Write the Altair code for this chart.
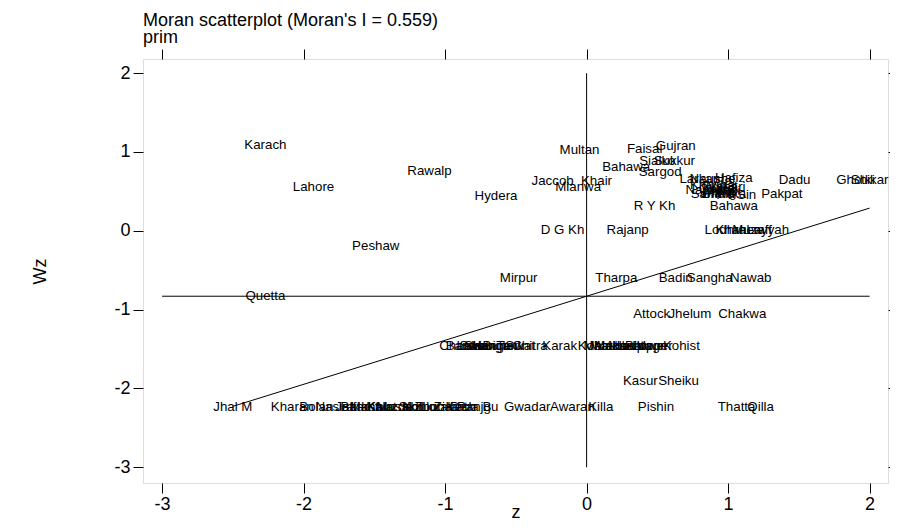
import altair as alt
import pandas as pd

# ---------------- data ----------------
names = [
    # upper-left quadrant
    "Karach", "Lahore", "Rawalp", "Hydera", "Peshaw", "Quetta", "Multan",
    "Jaccob", "Mianwa", "D G Kh", "Mirpur",
    # upper-right quadrant
    "Faisal", "Gujran", "Sialko", "Sukkur", "Bahawa", "Sargod", "Khair",
    "Larkan", "Naushe", "Hafiza", "Dadu", "Ghotki", "Shikar",
    "Khusha", "Gujrat", "Okara", "Vehari", "Narowa", "Mandi", "Sahiwa",
    "Jhang", "Bhakka", "T T Sin", "Pakpat", "Bahawa", "R Y Kh", "Rajanp",
    "Lodhra", "Khanew", "Muzaff", "Layyah",
    # lower-right quadrant
    "Tharpa", "Badin", "Sangha", "Nawab", "Attock", "Jhelum", "Chakwa",
    "Kasur", "Sheiku", "Killa", "Pishin", "Thatta", "Qilla",
    # lower-left band (Wz ~ -1.46)
    "Charsa", "Bannu", "Lakki", "Swabi", "Shangl", "Hangu", "Buner", "Tank",
    "Swat", "Chitra", "Karak", "Kohat", "Malaka", "Mardan", "Manseh",
    "Abbott", "Haripu", "Batagr", "Lower", "Upper", "Kohist",
    # bottom band (Wz ~ -2.23)
    "Jhal M", "Kharan", "Bolan", "Nasira", "Jaffar", "Barkha", "Mastun",
    "Kalat", "Khuzda", "Musakh", "Sibi", "Kohlu", "Zhob", "Lorala", "Ziarat",
    "Kech", "Dera B", "Panjgu", "Gwadar", "Awaran",
]

z_vals = [
    -2.27, -1.93, -1.11, -0.64, -1.49, -2.27, -0.05,
    -0.24, -0.06, -0.17, -0.48,
    0.41, 0.63, 0.50, 0.62, 0.28, 0.52, 0.07,
    0.80, 0.89, 1.04, 1.47, 1.90, 2.00,
    0.89, 0.94, 0.92, 0.99, 0.86, 0.96, 0.89,
    0.93, 0.97, 1.05, 1.38, 1.04, 0.48, 0.29,
    0.98, 1.08, 1.17, 1.28,
    0.21, 0.63, 0.87, 1.16, 0.46, 0.73, 1.10,
    0.38, 0.65, 0.10, 0.49, 1.06, 1.23,
    -0.89, -0.86, -0.81, -0.77, -0.72, -0.67, -0.61, -0.54,
    -0.47, -0.40, -0.19, 0.06, 0.13, 0.18, 0.22,
    0.27, 0.32, 0.41, 0.45, 0.48, 0.67,
    -2.50, -2.08, -1.91, -1.78, -1.66, -1.59, -1.52,
    -1.45, -1.39, -1.32, -1.25, -1.18, -1.11, -1.04, -0.96,
    -0.89, -0.82, -0.77, -0.42, -0.10,
]

wz_vals = [
    1.09, 0.56, 0.76, 0.44, -0.19, -0.83, 1.02,
    0.63, 0.55, 0.01, -0.60,
    1.04, 1.08, 0.88, 0.88, 0.81, 0.74, 0.63,
    0.66, 0.66, 0.67, 0.65, 0.65, 0.65,
    0.58, 0.57, 0.53, 0.55, 0.52, 0.51, 0.47,
    0.48, 0.47, 0.46, 0.47, 0.32, 0.32, 0.01,
    0.01, 0.01, 0.01, 0.01,
    -0.60, -0.60, -0.60, -0.60, -1.05, -1.05, -1.05,
    -1.90, -1.90, -2.23, -2.23, -2.23, -2.23,
    -1.46, -1.46, -1.46, -1.46, -1.46, -1.46, -1.46, -1.46,
    -1.46, -1.46, -1.46, -1.46, -1.46, -1.46, -1.46,
    -1.46, -1.46, -1.46, -1.46, -1.46, -1.46,
    -2.23, -2.23, -2.23, -2.23, -2.23, -2.23, -2.23,
    -2.23, -2.23, -2.23, -2.23, -2.23, -2.23, -2.23, -2.23,
    -2.23, -2.23, -2.23, -2.23, -2.23,
]

MORAN_I = 0.559
MEAN_WZ = -0.83
TITLE_LINES = ["Moran scatterplot (Moran's I = 0.559)", "prim"]
X_TICKS = [-3, -2, -1, 0, 1, 2]
Y_TICKS = [-3, -2, -1, 0, 1, 2]
X_DOMAIN = [-3.135, 2.13]
Y_DOMAIN = [-3.2, 2.18]

# ---------------- tables ----------------
df = pd.DataFrame({"name": names, "z": z_vals, "wz": wz_vals})
zmin, zmax = min(z_vals), max(z_vals)
reg = pd.DataFrame({"z": [zmin, zmax],
                    "wz": [MEAN_WZ + MORAN_I * zmin, MEAN_WZ + MORAN_I * zmax]})
hline = pd.DataFrame({"z": [X_TICKS[0]], "z2": [X_TICKS[-1]], "wz": [MEAN_WZ]})
vline = pd.DataFrame({"z": [0], "wz": [Y_TICKS[0]], "wz2": [Y_TICKS[-1]]})

FONT = "Liberation Sans"
xs = alt.Scale(domain=X_DOMAIN, nice=False, zero=False)
ys = alt.Scale(domain=Y_DOMAIN, nice=False, zero=False)

common_axis = dict(grid=False, domain=False, tickSize=10, tickColor="black",
                   tickWidth=1, labelFont=FONT, labelFontSize=18,
                   labelColor="black", titleFont=FONT, titleFontSize=18,
                   titleFontWeight="normal", titleColor="black",
                   labelExpr="'' + datum.value")

x_bottom = alt.Axis(orient="bottom", values=X_TICKS, labelPadding=2,
                    title="z", titleY=34, titleBaseline="alphabetic",
                    **common_axis)
y_left = alt.Axis(orient="left", values=Y_TICKS, labelPadding=3,
                  title="Wz", titleAngle=-90, titleX=-103, titleY=212,
                  titleAlign="center", titleBaseline="middle", **common_axis)
x_top = alt.Axis(orient="top", values=X_TICKS, labels=False, title=None,
                 grid=False, domain=False, tickSize=10, tickColor="black")
y_right = alt.Axis(orient="right", values=Y_TICKS, labels=False, title=None,
                   grid=False, domain=False, tickSize=10, tickColor="black")

labels = alt.Chart(df).mark_text(
    font=FONT, fontSize=13.3, color="black", align="center", baseline="middle"
).encode(
    x=alt.X("z:Q", scale=xs, axis=x_bottom),
    y=alt.Y("wz:Q", scale=ys, axis=y_left),
    text="name:N",
)

h_rule = alt.Chart(hline).mark_rule(color="black", strokeWidth=1).encode(
    x=alt.X("z:Q", scale=xs, axis=x_top),
    x2="z2:Q",
    y=alt.Y("wz:Q", scale=ys, axis=y_right),
)

v_rule = alt.Chart(vline).mark_rule(color="black", strokeWidth=1).encode(
    x=alt.X("z:Q", scale=xs, axis=None),
    y=alt.Y("wz:Q", scale=ys, axis=None),
    y2="wz2:Q",
)

reg_line = alt.Chart(reg).mark_line(color="black", strokeWidth=1).encode(
    x=alt.X("z:Q", scale=xs, axis=None),
    y=alt.Y("wz:Q", scale=ys, axis=None),
)

chart = alt.layer(labels, h_rule, v_rule, reg_line).resolve_axis(
    x="independent", y="independent"
).properties(
    width=745,
    height=424,
    autosize=alt.AutoSizeParams(type="none"),
    padding={"left": 135, "top": 51, "right": 2, "bottom": 40},
    title=alt.TitleParams(
        text=TITLE_LINES, anchor="start", frame="group", font=FONT,
        fontSize=18, fontWeight="normal", color="black", lineHeight=17,
        offset=2,
    ),
).configure_view(stroke="black", strokeWidth=1, fill="white").configure(
    background="white"
)

chart.save("out.html", embed_options={"renderer": "svg", "actions": False})
